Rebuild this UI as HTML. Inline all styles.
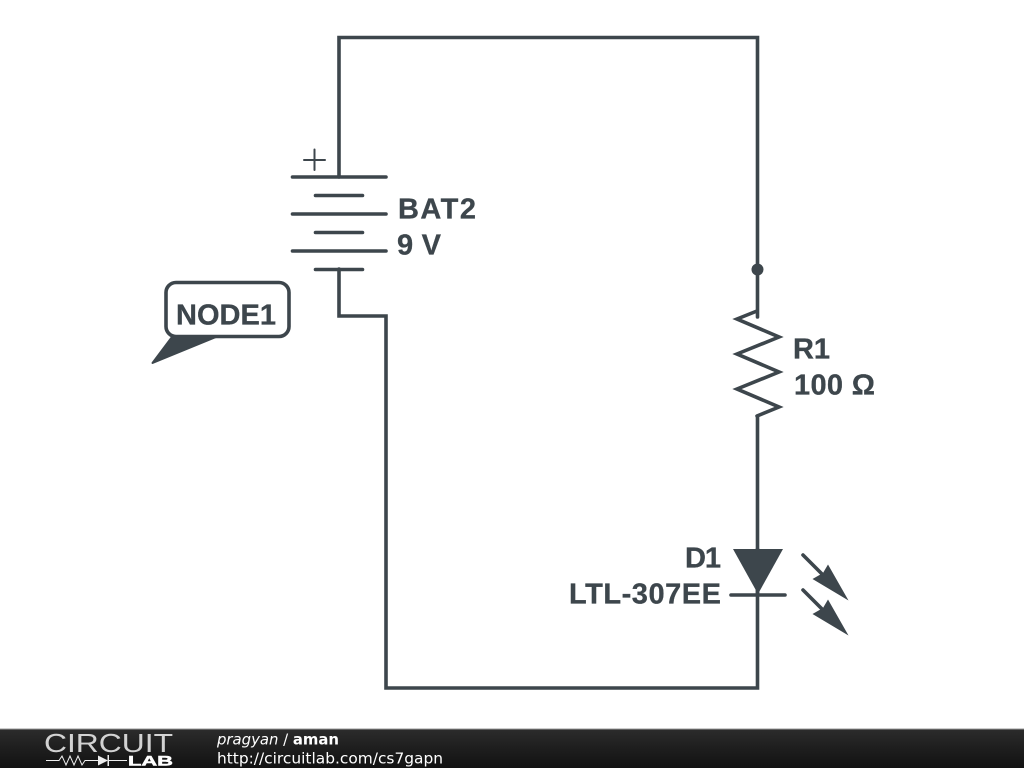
<!DOCTYPE html>
<html><head><meta charset="utf-8"><style>
html,body{margin:0;padding:0;background:#fff;width:1024px;height:768px;overflow:hidden}
svg{display:block}
</style></head><body>
<svg width="1024" height="768" viewBox="0 0 1024 768" xmlns="http://www.w3.org/2000/svg">
<defs><linearGradient id="g" x1="0" y1="0" x2="0" y2="1"><stop offset="0" stop-color="#2c2c2c"/><stop offset="0.5" stop-color="#1e1e1e"/><stop offset="1" stop-color="#121212"/></linearGradient></defs>
<rect width="1024" height="768" fill="#fff"/>
<g fill="none" stroke="#3d464c" stroke-width="3.600" stroke-linecap="round" stroke-linejoin="miter">
<path d="M339 177V37.500H757.500V317"/>
<path d="M339 269V316H386V688H757.500V416"/>
<path d="M292.500 177H386M315.500 195.500H362.500M292.500 214H386M315.500 232.500H362.500M292.500 251H386M315.500 269.500H362.500"/>
<path d="M757 311L737 319L779 337L737 354L779 372L737 389L779 407L757 416"/>
<path d="M731 595H785M757.500 549V593"/>
<path d="M803 555L826 578M803 590L826 613"/>
<path d="M304 160H325M314.500 149.500V170" stroke-width="2"/>
<rect x="166" y="282.500" width="123" height="54" rx="10" ry="10"/>
</g>
<circle cx="757.500" cy="269.500" r="6" fill="#3d464c"/>
<path d="M733 549H783L758 594Z" fill="#3d464c"/>
<path d="M848.500 600.500L828 564.500L823 573L812.500 579ZM848.500 635.500L828 599.500L823 608L812.500 614Z" fill="#3d464c"/>
<path d="M172 337L152.500 363L216 337Z" fill="#3d464c" stroke="#3d464c" stroke-width="2" stroke-linejoin="round"/>
<g font-family="'Liberation Sans',sans-serif" font-weight="bold" font-size="29" fill="#3d464c" stroke="#3d464c" stroke-width="0.300">
<text x="398" y="218.500" textLength="78" lengthAdjust="spacing">BAT2</text>
<text x="397" y="254.500" textLength="44" lengthAdjust="spacing">9 V</text>
<text x="176" y="324.500" textLength="100" lengthAdjust="spacing">NODE1</text>
<text x="793" y="358.500" textLength="37" lengthAdjust="spacing">R1</text>
<text x="794" y="394.500" textLength="81" lengthAdjust="spacing">100 Ω</text>
<text x="685" y="567.500" textLength="36" lengthAdjust="spacing">D1</text>
<text x="569" y="603.500" textLength="152" lengthAdjust="spacing">LTL-307EE</text>
</g>
<rect y="729" width="1024" height="39" fill="url(#g)"/>
<rect y="728.500" width="1024" height="1" fill="#999"/>
<g fill="#fff">
<text x="44" y="752" font-family="'Liberation Sans',sans-serif" font-size="26" textLength="129" lengthAdjust="spacingAndGlyphs" fill-opacity="0.8">CIRCUIT</text>
<text x="128" y="765.500" font-family="'Liberation Sans',sans-serif" font-weight="bold" font-size="14" textLength="45" lengthAdjust="spacingAndGlyphs" stroke="#fff" stroke-width="0.500">LAB</text>
<text x="217" y="744.500" font-family="'DejaVu Sans',sans-serif" font-size="14.900" textLength="122" lengthAdjust="spacingAndGlyphs"><tspan font-style="italic">pragyan</tspan> / <tspan font-weight="bold">aman</tspan></text>
<text x="217" y="763.500" font-family="'DejaVu Sans',sans-serif" font-size="15.400" textLength="226" lengthAdjust="spacingAndGlyphs">http://circuitlab.com/cs7gapn</text>
</g>
<path d="M46 760.500H59L62 756L66 765L70 756L74 765L78 756L82 765L85 760.500H98M108 760.500H127" fill="none" stroke="#eee" stroke-width="1"/>
<path d="M98 755.500L108 760.500L98 765.500ZM107.500 755V766H109V755Z" fill="#eee"/>
</svg>
</body></html>
